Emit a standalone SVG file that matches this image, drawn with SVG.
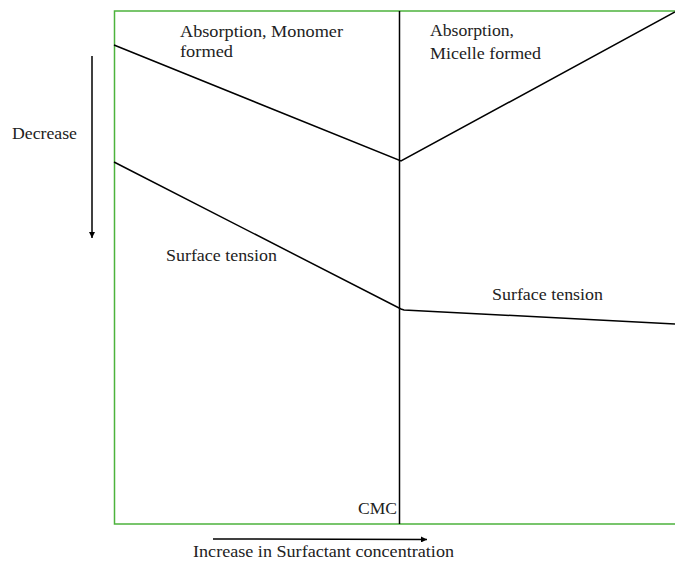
<svg xmlns="http://www.w3.org/2000/svg" width="675" height="561" viewBox="0 0 675 561">
<style>
.t{font-family:"Liberation Serif","DejaVu Serif",serif;font-size:17px;fill:#222}
.l{stroke:#000;stroke-width:1.5;fill:none}
</style>
<defs>
<marker id="ah" viewBox="0 0 10 10" refX="10" refY="5" markerWidth="6" markerHeight="6" orient="auto" markerUnits="userSpaceOnUse">
<path d="M0,0 L10,5 L0,10 z" fill="#000"/>
</marker>
</defs>
<rect width="675" height="561" fill="#fff"/>
<g id="frame">
<path d="M676,11 H114.5 V524 H676" stroke="#4cb33c" stroke-width="1.5" fill="none"/>
</g>
<g id="cmc-line">
<line x1="399.5" y1="11" x2="399.5" y2="524" class="l"/>
</g>
<g id="connectors">
<polyline class="l" points="114,45 401,161 675,12"/>
<polyline class="l" points="114,162 401,309 404,310 675,324"/>
<line class="l" x1="92" y1="56" x2="92" y2="238" marker-end="url(#ah)"/>
<line class="l" x1="213" y1="539" x2="427" y2="539.5" marker-end="url(#ah)"/>
</g>
<g id="labels">
<text class="t" x="180" y="37" textLength="163" lengthAdjust="spacingAndGlyphs">Absorption, Monomer</text>
<text class="t" x="180" y="57" textLength="53" lengthAdjust="spacingAndGlyphs">formed</text>
<text class="t" x="430" y="36" textLength="84" lengthAdjust="spacingAndGlyphs">Absorption,</text>
<text class="t" x="430" y="59" textLength="111" lengthAdjust="spacingAndGlyphs">Micelle formed</text>
<text class="t" x="12" y="139" textLength="65" lengthAdjust="spacingAndGlyphs">Decrease</text>
<text class="t" x="166" y="261" textLength="111" lengthAdjust="spacingAndGlyphs">Surface tension</text>
<text class="t" x="492" y="300" textLength="111" lengthAdjust="spacingAndGlyphs">Surface tension</text>
<text class="t" x="358" y="514" textLength="39" lengthAdjust="spacingAndGlyphs">CMC</text>
<text class="t" x="193" y="557" textLength="261" lengthAdjust="spacingAndGlyphs">Increase in Surfactant concentration</text>
</g>
</svg>
